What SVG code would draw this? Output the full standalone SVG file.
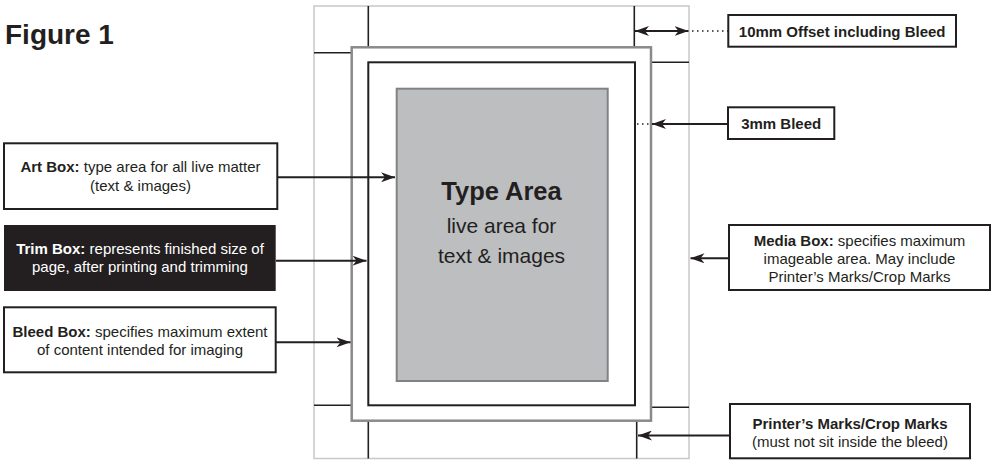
<svg xmlns="http://www.w3.org/2000/svg" width="991" height="460" viewBox="0 0 991 460">
<defs>
<style>
text{font-family:"Liberation Sans",Arial,Helvetica,sans-serif;fill:#231f20;}
.b{font-weight:bold;}
.lbl{font-size:15px;text-anchor:middle;}
.box{fill:#fff;stroke:#231f20;stroke-width:2;}
.crop{stroke:#231f20;stroke-width:1.6;fill:none;}
.conn{stroke:#231f20;stroke-width:2;fill:none;}
.dot{stroke:#231f20;stroke-width:1.5;fill:none;stroke-dasharray:1.5 3.5;}
.wt{fill:#fff;}
</style>
<marker id="ah" viewBox="0 0 14 10" refX="14" refY="5" markerWidth="14" markerHeight="10" markerUnits="userSpaceOnUse" orient="auto-start-reverse">
<path d="M0,0 L14,5 L0,10 L4,5 Z" fill="#231f20"/>
</marker>
</defs>
<rect width="991" height="460" fill="#fff"/>

<text x="5" y="44" class="b" style="font-size:28px">Figure 1</text>

<g id="page">
<rect id="media-box" x="314" y="6" width="375" height="452.5" fill="#fff" stroke="#c8c8c8" stroke-width="1.5"/>
<g id="crop-marks">
<line class="crop" x1="368.3" y1="6" x2="368.3" y2="47"/>
<line class="crop" x1="634.3" y1="6" x2="634.3" y2="47"/>
<line class="crop" x1="314" y1="52.7" x2="351" y2="52.7"/>
<line class="crop" x1="651" y1="62.3" x2="689" y2="62.3"/>
<line class="crop" x1="314" y1="405.3" x2="351" y2="405.3"/>
<line class="crop" x1="651" y1="407.3" x2="689" y2="407.3"/>
<line class="crop" x1="368.3" y1="421" x2="368.3" y2="458.5"/>
<line class="crop" x1="636.7" y1="421" x2="636.7" y2="458.5"/>
</g>
<rect id="bleed-rect" x="351.7" y="47.3" width="299.3" height="373.4" fill="#fff" stroke="#8a8a8a" stroke-width="2.5"/>
<rect id="trim-rect" x="368.3" y="62.3" width="266.7" height="343" fill="#fff" stroke="#231f20" stroke-width="2"/>
<g id="type-area">
<rect x="396.7" y="88.7" width="211" height="292.3" fill="#bcbec0" stroke="#808285" stroke-width="2"/>
<text x="501.5" y="199.5" class="b" style="font-size:25.5px;text-anchor:middle">Type Area</text>
<text x="501.5" y="232.5" style="font-size:21px;text-anchor:middle">live area for</text>
<text x="501.5" y="263" style="font-size:21px;text-anchor:middle">text &amp; images</text>
</g>
</g>

<g id="connectors">
<line class="conn" x1="277" y1="177.3" x2="395" y2="177.3" marker-end="url(#ah)"/>
<line class="conn" x1="276" y1="260.7" x2="366.5" y2="260.7" marker-end="url(#ah)"/>
<line class="conn" x1="276" y1="342.3" x2="350.5" y2="342.3" marker-end="url(#ah)"/>
<line class="conn" x1="635" y1="31" x2="688.5" y2="31" marker-start="url(#ah)" marker-end="url(#ah)"/>
<line class="dot" x1="692" y1="31" x2="728" y2="31"/>
<line class="conn" x1="728" y1="124" x2="652" y2="124" marker-end="url(#ah)"/>
<line class="dot" x1="637" y1="124" x2="651" y2="124"/>
<line class="conn" x1="729" y1="258.3" x2="690.5" y2="258.3" marker-end="url(#ah)"/>
<line class="conn" x1="730" y1="435.5" x2="638" y2="435.5" marker-end="url(#ah)"/>
</g>

<g id="art-box">
<rect class="box" x="4" y="143.3" width="273.3" height="65.7"/>
<text class="lbl" x="140.5" y="172.3"><tspan class="b">Art Box:</tspan> type area for all live matter</text>
<text class="lbl" x="140.5" y="190.5">(text &amp; images)</text>
</g>

<g id="trim-box">
<rect x="4" y="225" width="271.7" height="66" fill="#231f20"/>
<text class="lbl wt" x="140" y="254.3"><tspan class="b">Trim Box:</tspan> represents finished size of</text>
<text class="lbl wt" x="140" y="272.3">page, after printing and trimming</text>
</g>

<g id="bleed-box">
<rect class="box" x="4" y="307.3" width="271.7" height="65"/>
<text class="lbl" x="140" y="336.7"><tspan class="b">Bleed Box:</tspan> specifies maximum extent</text>
<text class="lbl" x="140" y="355">of content intended for imaging</text>
</g>

<g id="offset-box">
<rect class="box" x="728.3" y="15" width="227.7" height="31.7"/>
<text class="lbl b" x="842.2" y="37.3">10mm Offset including Bleed</text>
</g>

<g id="bleed3-box">
<rect class="box" x="728" y="107.3" width="106.3" height="31.7"/>
<text class="lbl b" x="781.2" y="129">3mm Bleed</text>
</g>

<g id="media-label">
<rect class="box" x="729" y="225" width="261" height="65"/>
<text class="lbl" x="859.5" y="245.7"><tspan class="b">Media Box:</tspan> specifies maximum</text>
<text class="lbl" x="859.5" y="263.7">imageable area. May include</text>
<text class="lbl" x="859.5" y="281.5">Printer’s Marks/Crop Marks</text>
</g>

<g id="printers-marks">
<rect class="box" x="730" y="404" width="240" height="54.3"/>
<text class="lbl b" x="850" y="429.3">Printer’s Marks/Crop Marks</text>
<text class="lbl" x="850" y="447.3">(must not sit inside the bleed)</text>
</g>
</svg>
